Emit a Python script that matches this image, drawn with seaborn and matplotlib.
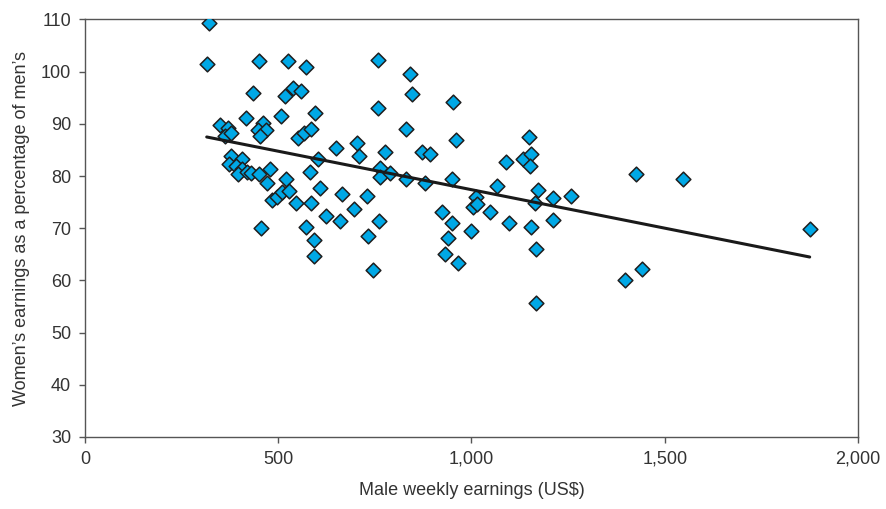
import matplotlib
matplotlib.use("Agg")
import matplotlib.pyplot as plt
import matplotlib.ticker as mticker
import seaborn as sns
import pandas as pd

# Male weekly earnings (US$) and women's earnings as % of men's
male_weekly = [
    321, 315, 449, 525, 571, 758, 841, 847, 434, 518, 539, 559, 758, 416, 508, 594,
    349, 369, 362, 379, 460, 448, 468, 453, 550, 566, 584, 831, 650, 703, 709, 775,
    872, 893, 603, 377, 406, 373, 391, 405, 396, 418, 429, 451, 478, 471, 519, 582,
    764, 763, 788, 830, 880, 609, 665, 730, 483, 496, 509, 527, 545, 584, 623, 659,
    697, 762, 455, 573, 593, 593, 733, 744, 952, 959, 1149, 1089, 1132, 1153, 1152, 1425,
    949, 1067, 1171, 1212, 1257, 1164, 1011, 1003, 1015, 924, 1047, 949, 998, 1096, 1155, 1212,
    939, 932, 966, 1167, 1166, 1396, 1440, 1546, 1875,
]
women_pct = [
    109.3, 101.4, 102.1, 102.0, 100.9, 102.2, 99.5, 95.7, 96.0, 95.3, 96.9, 96.3, 93.0, 91.1, 91.5, 92.0,
    89.8, 89.3, 87.7, 88.2, 90.2, 88.9, 88.9, 87.7, 87.3, 88.2, 89.1, 89.0, 85.4, 86.4, 83.8, 84.6,
    84.6, 84.2, 83.2, 83.8, 83.3, 82.4, 81.9, 81.3, 80.3, 80.7, 80.6, 80.3, 81.3, 78.6, 79.4, 80.8,
    81.5, 79.9, 80.5, 79.5, 78.6, 77.7, 76.5, 76.1, 75.4, 75.9, 77.0, 77.2, 74.8, 74.8, 72.3, 71.4,
    73.6, 71.4, 70.1, 70.3, 67.7, 64.6, 68.5, 62.0, 94.2, 87.0, 87.4, 82.6, 83.2, 84.2, 81.9, 80.3,
    79.4, 78.1, 77.3, 75.8, 76.2, 74.8, 75.9, 74.1, 74.6, 73.1, 73.1, 71.0, 69.4, 71.0, 70.2, 71.6,
    68.2, 65.0, 63.4, 66.0, 55.7, 60.0, 62.2, 79.4, 69.8,
]

x_ticks = [0, 500, 1000, 1500, 2000]
y_ticks = [30, 40, 50, 60, 70, 80, 90, 100, 110]

df = pd.DataFrame({"male": male_weekly, "women": women_pct})

sns.set_style("white")
plt.rcParams["font.family"] = ["Liberation Sans", "DejaVu Sans"]

fig = plt.figure(figsize=(8.87, 5.09), dpi=100)
ax = fig.add_axes([0.0958, 0.1415, 0.8715, 0.8202])

# scatter + least-squares line
sns.regplot(data=df, x="male", y="women", ci=None, ax=ax, marker="D",
            scatter_kws={"s": 56, "color": "#00A8E6", "edgecolor": "#1e1e1e",
                         "linewidths": 1.1, "alpha": 1, "zorder": 3},
            line_kws={"color": "#1a1a1a", "linewidth": 2.2, "zorder": 4})

ax.set_xlim(0, 2000)
ax.set_ylim(30, 110)
ax.set_xticks(x_ticks)
ax.set_yticks(y_ticks)
ax.xaxis.set_major_formatter(mticker.FuncFormatter(lambda v, p: f"{int(v):,}"))
ax.tick_params(axis="both", direction="out", length=4, width=1, color="#555555",
               labelsize=13, labelcolor="#333333", pad=6, bottom=True, left=True)
for s in ax.spines.values():
    s.set_color("#555555")
    s.set_linewidth(1.0)

ax.set_xlabel("Male weekly earnings (US$)", fontsize=13, color="#333333", labelpad=10)
ax.set_ylabel("Women\u2019s earnings as a percentage of men\u2019s", fontsize=13,
              color="#333333", labelpad=8)

fig.savefig("out.png", dpi=100)
